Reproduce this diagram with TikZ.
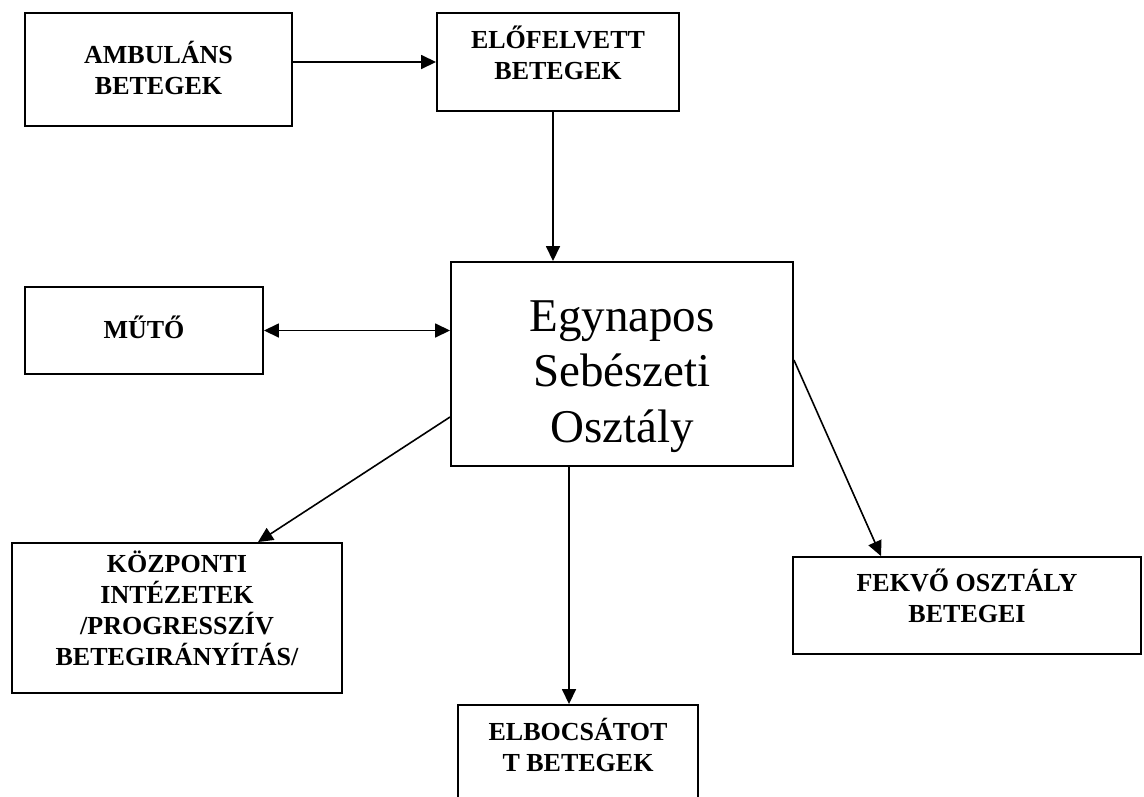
\documentclass[tikz,border=0pt]{standalone}
\usepackage{fontspec}
\setmainfont{Liberation Serif}
\usetikzlibrary{arrows.meta}
\begin{document}
\begin{tikzpicture}[x=1pt,y=-1pt,
    box/.style={draw,line width=1.9pt,inner sep=0pt},
    lbl/.style={anchor=north,align=center,inner sep=0pt,font=\bfseries\fontsize{26}{31}\selectfont},
    big/.style={anchor=north,align=center,inner sep=0pt,font=\fontsize{47}{55.5}\selectfont},
    arr/.style={line width=1.6pt,-{Triangle[length=15pt,width=14pt]}}]
  \clip (0,0) rectangle (1144,796);
  % boxes
  \node[box,minimum width=267pt,minimum height=113pt] (ambul) at (158.5,69.5) {};
  \node[box,minimum width=242pt,minimum height=98pt] (elofel) at (558,62) {};
  \node[box,minimum width=238pt,minimum height=87pt] (muto) at (144,330.5) {};
  \node[box,minimum width=342pt,minimum height=204pt] (main) at (622,364) {};
  \node[box,minimum width=330pt,minimum height=150pt] (kozp) at (177,618) {};
  \node[box,minimum width=348pt,minimum height=97pt] (fekvo) at (967,605.5) {};
  \node[box,minimum width=240pt,minimum height=100pt] (elb) at (578,755) {};
  % texts
  \node[lbl] (ambul-t) at ([yshift=-29pt]ambul.north) {AMBULÁNS\\BETEGEK};
  \node[lbl] (elofel-t) at ([yshift=-14pt]elofel.north) {ELŐFELVETT\\BETEGEK};
  \node[lbl] (muto-t) at ([yshift=-30pt]muto.north) {MŰTŐ};
  \node[big] (main-t) at ([yshift=-39pt]main.north) {Egynapos\\Sebészeti\\Osztály};
  \node[lbl] (kozp-t) at ([yshift=-9pt]kozp.north) {KÖZPONTI\\INTÉZETEK\\/PROGRESSZÍV\\BETEGIRÁNYÍTÁS/};
  \node[lbl] (fekvo-t) at ([yshift=-13pt]fekvo.north) {FEKVŐ OSZTÁLY\\BETEGEI};
  \node[lbl] (elb-t) at ([yshift=-14pt]elb.north) {ELBOCSÁTOT\\T BETEGEK};
  % connectors
  \draw[arr] (ambul.east |- elofel.west) -- (elofel.west);
  \draw[arr] ([xshift=-5pt]elofel.south) -- ([xshift=-5pt]elofel.south |- main.north);
  \draw[arr,{Triangle[length=15pt,width=14pt]}-{Triangle[length=15pt,width=14pt]}] (muto.east) -- (muto.east -| main.west);
  \draw[arr] ([yshift=-53pt]main.west) -- ([xshift=81pt]kozp.north);
  \draw[arr] ([xshift=-9pt]elb.north |- main.south) -- ([xshift=-9pt]elb.north);
  \draw[arr] ([yshift=4pt]main.east) -- ([xshift=-86pt]fekvo.north);
\end{tikzpicture}
\end{document}
